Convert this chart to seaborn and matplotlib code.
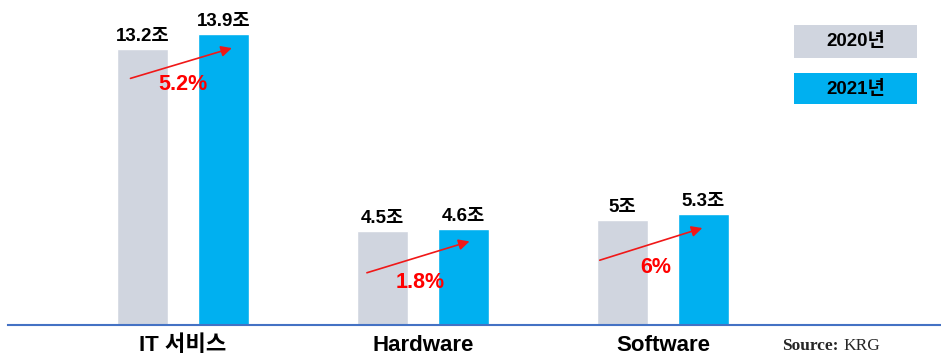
import matplotlib
matplotlib.use("Agg")
import matplotlib.pyplot as plt
from matplotlib.patches import Rectangle
import seaborn as sns
import pandas as pd

# Market size (조 원) by segment, 2020 vs 2021
categories = ["IT 서비스", "Hardware", "Software"]
years = ["2020년", "2021년"]
values_2020 = [13.2, 4.5, 5.0]
values_2021 = [13.9, 4.6, 5.3]
growth_labels = ["5.2%", "1.8%", "6%"]
colors = ["#D0D5DF", "#00B0F0"]

# arrow geometry relative to the bars: start below the 2020 top, end below the 2021 top
arrow_start_dx = [-0.05, -0.065, -0.095]
arrow_start_drop = [1.4, 2.0, 1.9]
arrow_end_dx = [0.035, 0.025, -0.005]
arrow_end_drop = [0.65, 0.6, 0.66]
growth_label_y = [11.5, 2.05, 2.75]
growth_label_dx = [0.0, -0.01, -0.03]

df = pd.DataFrame({
    "segment": categories * 2,
    "year": [years[0]] * 3 + [years[1]] * 3,
    "value": values_2020 + values_2021,
})

sns.set_theme(style="white")
plt.rcParams["font.family"] = ["Liberation Sans", "Noto Sans CJK KR", "DejaVu Sans"]

W, H = 941, 354
fig = plt.figure(figsize=(W / 100, H / 100), dpi=100)
ax = fig.add_axes([8 / W, (H - 325) / H, (W - 8) / W, 325 / H])

sns.barplot(data=df, x="segment", y="value", hue="year", order=categories,
            hue_order=years, palette=colors, width=0.675, gap=0.37,
            saturation=1, legend=False, ax=ax)

ax.set_xlim(-0.729, 3.158)
ax.set_ylim(0, 15.55)
ax.set_xlabel("")
ax.set_ylabel("")
ax.set_yticks([])
for s in ["left", "right", "top"]:
    ax.spines[s].set_visible(False)
ax.spines["bottom"].set_color("#4472C4")
ax.spines["bottom"].set_linewidth(1.5)
ax.tick_params(axis="x", length=0, pad=7)
for lbl in ax.get_xticklabels():
    lbl.set_fontsize(16)
    lbl.set_fontweight("bold")
    lbl.set_color("black")

# value labels above each bar
for cont, vals in zip(ax.containers, [values_2020, values_2021]):
    ax.bar_label(cont, labels=[f"{v:g}조" for v in vals], padding=3,
                 fontsize=13.5, fontweight="bold", color="black")

# growth arrows and percentages
for i in range(len(categories)):
    b0, b1 = ax.containers[0][i], ax.containers[1][i]
    x0 = b0.get_x() + b0.get_width() / 2 + arrow_start_dx[i]
    x1 = b1.get_x() + b1.get_width() / 2 + arrow_end_dx[i]
    y0 = values_2020[i] - arrow_start_drop[i]
    y1 = values_2021[i] - arrow_end_drop[i]
    ax.annotate("", xy=(x1, y1), xytext=(x0, y0),
                arrowprops=dict(arrowstyle="-|>", color="#F01818", lw=1.2,
                                mutation_scale=16, shrinkA=0, shrinkB=0))
    ax.text(i + growth_label_dx[i], growth_label_y[i], growth_labels[i],
            color="#FF0000", fontsize=15.5, fontweight="bold",
            ha="center", va="center")

# legend boxes
box_x, box_w = 794, 123
for (top, bottom), year, col in zip([(25, 58), (73, 104)], years, colors):
    fig.patches.append(Rectangle((box_x / W, (H - bottom) / H), box_w / W,
                                 (bottom - top) / H, transform=fig.transFigure,
                                 facecolor=col, edgecolor="none"))
    fig.text((box_x + box_w / 2) / W, (H - (top + bottom) / 2) / H, year,
             ha="center", va="center", fontsize=13.5, fontweight="bold",
             color="black")

# source note
fig.text(782 / W, (H - 346) / H, "Source:", family="Liberation Serif",
         fontweight="bold", fontsize=12.5, ha="left", va="center")
fig.text(843 / W, (H - 346) / H, "KRG", family="Liberation Serif",
         fontsize=12.5, ha="left", va="center")

fig.savefig("out.png", dpi=100)
